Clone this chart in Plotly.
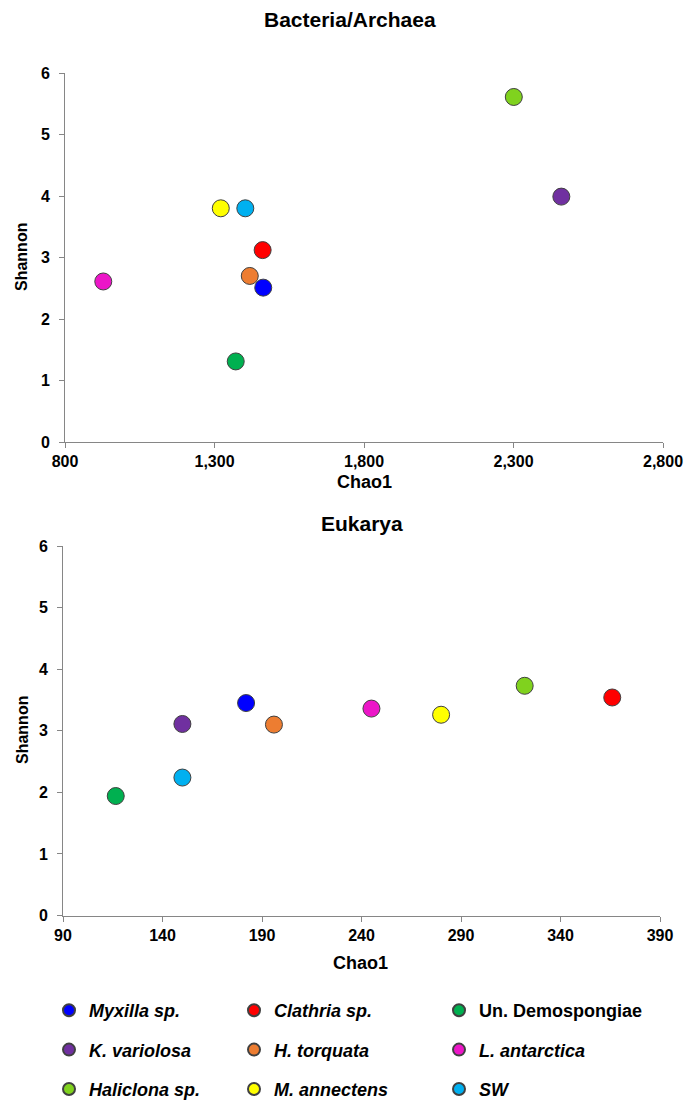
import plotly.graph_objects as go

# ---- data ----
species = ["<i>Myxilla sp.</i>", "<i>Clathria sp.</i>", "Un. Demospongiae",
           "<i>K. variolosa</i>", "<i>H. torquata</i>", "<i>L. antarctica</i>",
           "<i>Haliclona sp.</i>", "<i>M. annectens</i>", "<i>SW</i>"]
colors = ["#0000FF", "#FF0000", "#00B050", "#7030A0", "#ED7D31",
          "#EC16C8", "#80D21E", "#FFFF00", "#00B0F0"]
bac_chao1 = [1463, 1461, 1371, 2460, 1418, 928, 2301, 1321, 1403]
bac_shannon = [2.51, 3.12, 1.31, 3.99, 2.70, 2.61, 5.61, 3.80, 3.80]
euk_chao1 = [182, 366, 116.5, 150, 196, 245, 322, 280, 150]
euk_shannon = [3.45, 3.54, 1.94, 3.11, 3.10, 3.36, 3.73, 3.26, 2.24]
bac_xticks = [800, 1300, 1800, 2300, 2800]
euk_xticks = [90, 140, 190, 240, 290, 340, 390]
y_ticks = [0, 1, 2, 3, 4, 5, 6]

W, H = 684, 1108
FONT = "Arial, Liberation Sans, sans-serif"
legend_cols = ["legend", "legend2", "legend3"]

fig = go.Figure()
for i, name in enumerate(species):
    leg = legend_cols[i % 3]
    mk = dict(size=17, color=colors[i], line=dict(color="#404040", width=1))
    fig.add_trace(go.Scatter(x=[bac_chao1[i]], y=[bac_shannon[i]], mode="markers",
                             name=name, marker=mk, legendgroup=name, legend=leg,
                             xaxis="x", yaxis="y", showlegend=True))
    fig.add_trace(go.Scatter(x=[euk_chao1[i]], y=[euk_shannon[i]], mode="markers",
                             name=name, marker=mk, legendgroup=name, legend=leg,
                             xaxis="x2", yaxis="y2", showlegend=False))

axis_common = dict(showline=True, linecolor="#868686", linewidth=1, ticks="outside",
                   ticklen=5, tickcolor="#868686", showgrid=False, zeroline=False,
                   automargin=False,
                   tickfont=dict(family=FONT, size=16, color="black", weight="bold"))

fig.update_layout(
    width=W, height=H, margin=dict(l=0, r=0, t=0, b=0),
    paper_bgcolor="white", plot_bgcolor="white", template=None,
    xaxis=dict(domain=[65 / W, 663 / W], range=[800, 2800], tickvals=bac_xticks,
               tickformat=",", anchor="y", **axis_common),
    yaxis=dict(domain=[1 - 442 / H, 1 - 73 / H], range=[0, 6], tickvals=y_ticks,
               anchor="x", ticklabelstandoff=6, **axis_common),
    xaxis2=dict(domain=[63 / W, 660 / W], range=[90, 390], tickvals=euk_xticks,
                anchor="y2", **axis_common),
    yaxis2=dict(domain=[1 - 915.5 / H, 1 - 546 / H], range=[0, 6], tickvals=y_ticks,
                anchor="x2", ticklabelstandoff=6, **axis_common),
)

legend_common = dict(orientation="v", xanchor="left", yanchor="bottom", tracegroupgap=13,
                     font=dict(family=FONT, size=18, color="black", weight="bold"),
                     bgcolor="rgba(0,0,0,0)", itemsizing="constant")
lx = [49, 234, 439]
fig.update_layout(
    legend=dict(x=lx[0] / W, y=0, **legend_common),
    legend2=dict(x=lx[1] / W, y=0, **legend_common),
    legend3=dict(x=lx[2] / W, y=0, **legend_common),
)

def ann(text, x, y, size, angle=0):
    return dict(text=text, x=x / W, y=1 - y / H, xref="paper", yref="paper",
                showarrow=False, textangle=angle, xanchor="center", yanchor="middle",
                font=dict(family=FONT, size=size, color="black", weight="bold"))

fig.update_layout(annotations=[
    ann("Bacteria/Archaea", 350, 19, 21),
    ann("Chao1", 364, 482, 18),
    ann("Shannon", 22, 257, 16, -90),
    ann("Eukarya", 362, 523, 21),
    ann("Chao1", 360, 963, 18),
    ann("Shannon", 22, 730, 16, -90),
])

fig.write_html("out.html", config={"displayModeBar": False},
               post_script="document.body.style.margin='0';")
